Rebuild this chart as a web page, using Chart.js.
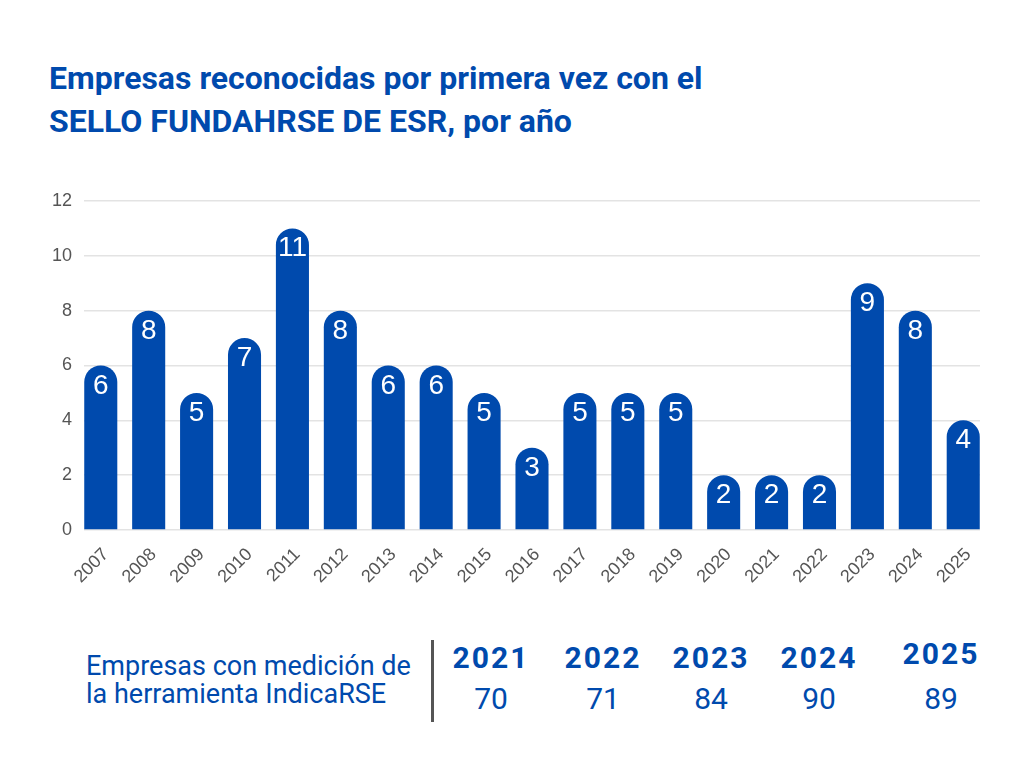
<!DOCTYPE html>
<meta charset="utf-8">
<title>Sello FUNDAHRSE</title>
<style>
  body { margin: 0; width: 1024px; height: 768px; background: #fff; position: relative; overflow: hidden; font-family: Roboto, sans-serif; color: #004aad; }
  #chart { position: absolute; left: 0; top: 0; }
  .t { position: absolute; white-space: nowrap; }
  #title { left: 49px; top: 57px; font-size: 32px; font-weight: 700; line-height: 43px; }
  #panel-label { left: 86px; top: 652px; font-size: 27px; line-height: 28px; }
  #sep { position: absolute; left: 431px; top: 640px; width: 3px; height: 82px; background: #555; }
  .yr { font-size: 30px; font-weight: 700; letter-spacing: 2px; transform: translateX(-50%); }
  .val { font-size: 30px; transform: translateX(-50%); }
</style>
<div id="title" class="t">Empresas reconocidas por primera vez con el<br>SELLO FUNDAHRSE DE ESR, por año</div>
<div id="panel-label" class="t">Empresas con medición de<br>la herramienta IndicaRSE</div>
<div id="sep"></div>
<div id="panel"></div>
<canvas id="chart" width="1024" height="768"></canvas>
<script src="https://cdn.jsdelivr.net/npm/chart.js@4"></script>
<script>
  const years = ["2007", "2008", "2009", "2010", "2011", "2012", "2013", "2014", "2015", "2016",
                 "2017", "2018", "2019", "2020", "2021", "2022", "2023", "2024", "2025"]
  const counts = [6, 8, 5, 7, 11, 8, 6, 6, 5, 3, 5, 5, 5, 2, 2, 2, 9, 8, 4]

  const panelYears = ["2021", "2022", "2023", "2024", "2025"]
  const panelValues = [70, 71, 84, 90, 89]

  const blue = "#004aad"

  // little table under the chart
  const panelX = [491, 603, 711, 819, 941]
  const panelYearTop = [640, 640, 640, 640, 636]
  const panel = document.getElementById("panel")
  panelYears.forEach((y, i) => {
    const a = document.createElement("div")
    a.className = "t yr"
    a.style.left = panelX[i] + "px"
    a.style.top = panelYearTop[i] + "px"
    a.textContent = y
    panel.appendChild(a)
    const b = document.createElement("div")
    b.className = "t val"
    b.style.left = panelX[i] + "px"
    b.style.top = "681px"
    b.textContent = panelValues[i]
    panel.appendChild(b)
  })

  // numbers inside the top of each bar
  const barLabels = {
    id: "barLabels",
    afterDatasetsDraw(chart) {
      const ctx = chart.ctx
      ctx.save()
      ctx.fillStyle = "#fff"
      ctx.font = "28px 'Liberation Sans', Arial, sans-serif"
      ctx.textAlign = "center"
      ctx.textBaseline = "alphabetic"
      chart.getDatasetMeta(0).data.forEach((bar, i) => {
        ctx.fillText(counts[i], bar.x, bar.y + 28)
      })
      ctx.restore()
    },
  }

  new Chart(document.getElementById("chart"), {
    type: "bar",
    data: {
      datasets: [{
        data: counts.map((v, i) => ({ x: i, y: v })),
        backgroundColor: blue,
        borderRadius: { topLeft: 17, topRight: 17 },
        borderSkipped: "bottom",
        categoryPercentage: 1,
        barPercentage: 0.69,
      }],
    },
    options: {
      responsive: false,
      animation: false,
      layout: { padding: { top: 201, right: 44, bottom: 170, left: 0 } },
      plugins: { legend: { display: false }, tooltip: { enabled: false } },
      scales: {
        x: {
          type: "linear",
          min: -0.35,
          max: 18.35,
          offset: false,
          afterFit: s => { s.height = 68 },
          grid: { display: false },
          border: { display: false },
          ticks: {
            stepSize: 1,
            includeBounds: false,
            autoSkip: false,
            minRotation: 45,
            maxRotation: 45,
            padding: 6,
            labelOffset: 5,
            color: "#555",
            font: { family: "'Liberation Sans', Arial, sans-serif", size: 18 },
            callback: v => years[v] ?? "",
          },
        },
        y: {
          min: 0,
          max: 12,
          afterFit: s => { s.width = 84 },
          border: { display: false },
          grid: { color: "#e3e3e3", lineWidth: 1.5, drawTicks: false },
          ticks: {
            stepSize: 2,
            padding: 12,
            color: "#555",
            font: { family: "'Liberation Sans', Arial, sans-serif", size: 18 },
          },
        },
      },
    },
    plugins: [barLabels],
  })
</script>
